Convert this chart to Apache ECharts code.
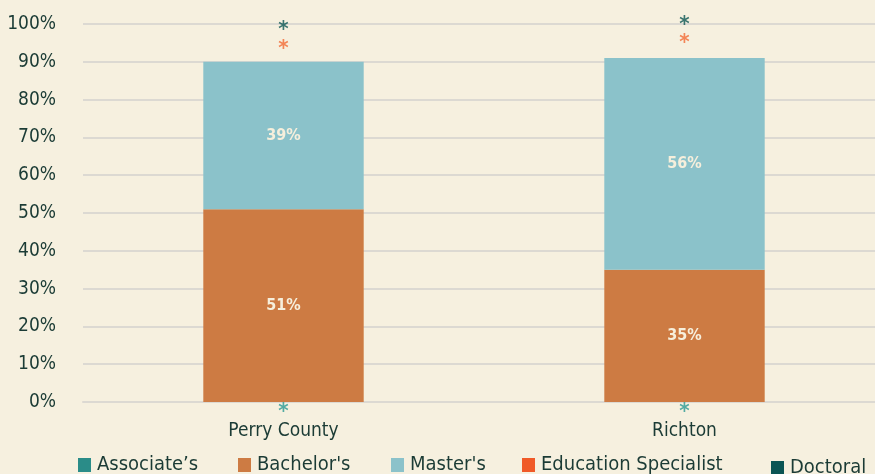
<!DOCTYPE html>
<html>
<head>
<meta charset="utf-8">
<script src="https://cdn.jsdelivr.net/npm/echarts@6/dist/echarts.min.js"></script>
<style>
  html, body { margin: 0; padding: 0; background: #f6f0df; }
  #chart { width: 875px; height: 474px; }
</style>
</head>
<body>
<div id="chart"></div>
<script>
var categories = ['Perry County', 'Richton'];
var associates = [0, 0];
var bachelors = [51, 35];
var masters = [39, 56];
var eduSpecialist = [0, 0];
var doctoral = [0, 0];
// asterisk markers for suppressed values (y position in %)
var starAssociates = [-1.5, -1.5];
var starEduSpecialist = [94.7, 96.2];
var starDoctoral = [99.6, 101];
var yTicks = [0, 10, 20, 30, 40, 50, 60, 70, 80, 90, 100];

var font = "'Liberation Sans Narrow', 'DejaVu Sans Condensed', 'Roboto', sans-serif";
var textColor = '#1b3b35';
var colors = {
  "Associate’s": '#2a8c88',
  "Bachelor's": '#cd7b43',
  "Master's": '#8bc2ca',
  'Education Specialist': '#f05a28',
  'Doctoral': '#0b5554'
};

function barSeries(name, data, showLabel) {
  return {
    name: name,
    type: 'bar',
    stack: 'total',
    barWidth: '40%',
    data: data,
    itemStyle: { color: colors[name] },
    label: {
      show: showLabel,
      position: 'inside',
      formatter: '{c}%',
      color: '#f6efdc',
      fontFamily: font,
      fontWeight: 'bold',
      fontSize: 16
    }
  };
}

function starSeries(data, color) {
  return {
    type: 'scatter',
    data: data,
    symbolSize: 0,
    clip: false,
    silent: true,
    label: {
      show: true,
      position: 'inside',
      formatter: '*',
      color: color,
      fontFamily: font,
      fontWeight: 'bold',
      fontSize: 22,
      offset: [0, 5]
    }
  };
}

var legendPos = [
  { name: "Associate’s", left: 78, top: 455 },
  { name: "Bachelor's", left: 238, top: 455 },
  { name: "Master's", left: 391, top: 455 },
  { name: 'Education Specialist', left: 522, top: 455 },
  { name: 'Doctoral', left: 771, top: 458 }
];

var chart = echarts.init(document.getElementById('chart'));
chart.setOption({
  backgroundColor: '#f6f0df',
  animation: false,
  grid: { left: 83, width: 802, top: 24, bottom: 72, outerBoundsMode: 'none' },
  legend: legendPos.map(function (p) {
    return {
      data: [p.name],
      left: p.left,
      top: p.top,
      padding: 0,
      icon: 'rect',
      itemWidth: 13,
      itemHeight: 14,
      itemGap: 0,
      textStyle: { color: textColor, fontFamily: font, fontSize: 20, padding: [0, 0, 0, 1] }
    };
  }),
  xAxis: {
    type: 'category',
    data: categories,
    axisLine: { show: true, lineStyle: { color: '#dcd9d2', width: 2 } },
    axisTick: { show: false },
    axisLabel: { color: textColor, fontFamily: font, fontSize: 19, margin: 20 }
  },
  yAxis: {
    type: 'value',
    min: 0,
    max: 100,
    interval: 10,
    axisLine: { show: false },
    axisTick: { show: false },
    splitLine: { lineStyle: { color: '#dcd9d2', width: 2 } },
    axisLabel: {
      color: textColor,
      fontFamily: font,
      fontSize: 19,
      margin: 27,
      formatter: function (v) { return yTicks.indexOf(v) >= 0 ? v + '%' : ''; }
    }
  },
  series: [
    barSeries("Associate’s", associates, false),
    barSeries("Bachelor's", bachelors, true),
    barSeries("Master's", masters, true),
    barSeries('Education Specialist', eduSpecialist, false),
    barSeries('Doctoral', doctoral, false),
    starSeries(starAssociates, '#2a9a94'),
    starSeries(starEduSpecialist, '#f26a35'),
    starSeries(starDoctoral, '#0d5654')
  ]
});
</script>
</body>
</html>
